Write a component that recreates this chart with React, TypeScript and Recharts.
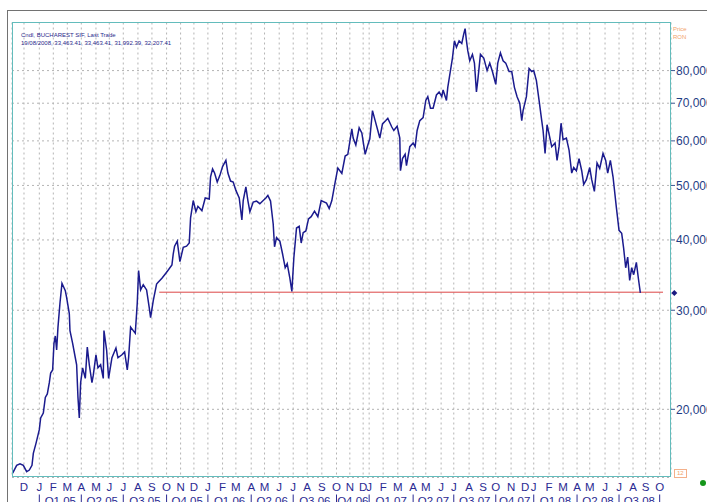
import React from 'react';
import { LineChart, Line, XAxis, YAxis, CartesianGrid, ReferenceLine, ReferenceDot } from 'recharts';

// x = trading session index since late Nov 2004, y = close (RON)
const SESSION = [
  1, 7, 12, 17, 22, 26, 30, 32, 36, 41, 43, 47, 50, 53, 56, 58, 61, 63, 65, 67, 69, 72, 75, 80, 82, 86, 87, 91, 95, 97,
  99, 101, 103, 106, 110, 113, 116, 120, 122, 126, 129, 133, 137, 138, 142, 145, 150, 156, 159, 165, 169, 173, 175, 178,
  182, 185, 188, 190, 193, 197, 202, 206, 208, 212, 217, 219, 225, 230, 234, 240, 242, 244, 248, 252, 257, 262, 266,
  268, 272, 276, 279, 285, 290, 296, 298, 301, 304, 308, 312, 316, 321, 324, 328, 332, 336, 341, 345, 347, 351, 354,
  357, 362, 367, 372, 377, 381, 384, 388, 392, 394, 397, 402, 406, 410, 413, 417, 420, 423, 427, 431, 434, 437, 441,
  445, 449, 454, 459, 464, 472, 476, 480, 485, 489, 495, 500, 504, 510, 512, 516, 521, 525, 530, 534, 537, 541, 545,
  549, 552, 556, 561, 564, 570, 573, 578, 582, 583, 586, 590, 592, 597, 602, 605, 608, 612, 617, 621, 624, 628, 632,
  637, 641, 645, 647, 652, 654, 658, 661, 664, 667, 671, 675, 678, 680, 682, 684, 687, 691, 694, 697, 699, 703, 708,
  713, 717, 721, 726, 729, 733, 737, 741, 746, 750, 754, 758, 762, 765, 767, 772, 776, 780, 783, 787, 791, 795, 797,
  800, 803, 806, 810, 815, 818, 821, 824, 827, 832, 836, 840, 843, 847, 851, 855, 858, 862, 867, 870, 874, 878, 882,
  887, 891, 894, 898, 902, 907, 911, 915, 918, 921, 924, 927, 930, 933, 937, 940, 943,
];

const CLOSE = [
  15400, 15900, 16000, 15900, 15500, 15600, 15900, 16700, 17400, 18400, 19300, 19700, 21000, 21300, 22300, 23200,
  23500, 26200, 27000, 25500, 28000, 30900, 33500, 32500, 31600, 29600, 27600, 26200, 24700, 24000,
  21000, 19300, 22300, 23700, 22700, 25800, 24000, 22300, 23000, 25000, 23700, 24000, 22700, 27600, 25500, 22700,
  24700, 25700, 24700, 25000, 25300, 23500, 24700, 28000,
  27600, 27300, 30900, 35300, 32600, 33300, 32600, 30300, 29100, 31200, 33400, 33600, 34200, 34800, 35300, 36100,
  37800, 39000, 39800, 36600, 38800, 39000, 39500,
  43800, 47000, 44900, 45900, 45100, 47500, 47300, 51800, 53500, 52600, 50700, 52100, 54000, 55400, 52600, 50900,
  50700, 49000, 47500, 43400, 47000, 49700, 47000,
  44900, 46700, 46900, 46400, 47000, 47500, 48000, 46900, 42700, 38900, 40400, 39800, 37800, 35700, 36300, 34200,
  32400, 37200, 42000, 42300, 39500, 41200, 41500,
  43600, 44000, 45000, 44000, 47000, 46500, 45500, 47000, 50700, 53700, 52500, 56400, 56800, 63000, 60700, 59000,
  63300, 62000, 56800, 59000, 60500, 67900, 65200,
  62600, 60700, 64300, 65200, 65800, 63500, 62600, 63700, 60700, 53100, 55800, 56800, 54200, 58600, 59500, 58600,
  62600, 65200, 66000, 70800, 71900, 68600, 68600,
  72400, 73300, 71900, 73900, 70800, 74700, 80000, 84200, 90400, 88000, 90400, 89400, 93000, 95000, 90400, 86800,
  83300, 85500, 82500, 73300, 76800, 85500, 84200,
  80000, 82500, 79700, 75600, 82500, 86000, 83300, 82500, 79700, 79700, 74700, 71900, 70000, 65200, 67900, 71900,
  80700, 79700, 80000, 76800, 70800, 65200, 62600,
  57000, 64100, 61700, 58600, 59500, 55400, 58600, 64500, 60300, 60700, 57800, 52600, 53800, 53100, 55800, 53100,
  50200, 51200, 53800, 51200, 48800, 54800, 53600,
  57000, 55400, 52600, 55400, 51800, 45700, 41600, 41100, 38600, 35700, 37300, 33900, 35700, 34700, 36500, 34200,
  32207.41,
];

const MONTH_LABELS = [
  'D', 'J', 'F', 'M', 'A', 'M', 'J', 'J', 'A', 'S', 'O', 'N',
  'D', 'J', 'F', 'M', 'A', 'M', 'J', 'J', 'A', 'S', 'O', 'N',
  'D', 'J', 'F', 'M', 'A', 'M', 'J', 'J', 'A', 'S', 'O', 'N',
  'D', 'J', 'F', 'M', 'A', 'M', 'J', 'J', 'A', 'S', 'O',
];
const MONTH_SESSION = [
  18, 41, 62, 83, 104, 126, 146, 167, 189, 210, 232, 253,
  273, 294, 316, 336, 359, 379, 401, 422, 443, 465, 487, 507,
  527, 536, 557, 579, 602, 621, 644, 663, 686, 707, 726, 749,
  770, 783, 806, 827, 848, 867, 890, 911, 932, 951, 972,
];

const QUARTER_LABELS = [
  'Q1 05', 'Q2 05', 'Q3 05', 'Q4 05', 'Q1 06', 'Q2 06', 'Q3 06', 'Q4 06',
  'Q1 07', 'Q2 07', 'Q3 07', 'Q4 07', 'Q1 08', 'Q2 08', 'Q3 08',
];
const QUARTER_START = [41, 104, 167, 232, 294, 359, 422, 487, 536, 602, 663, 726, 783, 848, 911, 972];

const PRICE_TICKS = [20000, 30000, 40000, 50000, 60000, 70000, 80000];
const X_DOMAIN = [0, 989];
const Y_DOMAIN = [15130, 97400];

const SUPPORT_LEVEL = 32300;
const SUPPORT_FROM = 221;
const SUPPORT_TO = 977;
const LAST_PRICE = 32207.41;

const data = SESSION.map((s, i) => ({ s, close: CLOSE[i] }));

const QUARTER_MID = QUARTER_LABELS.map((_, i) => (QUARTER_START[i] + QUARTER_START[i + 1]) / 2);
const QUARTER_TICKS = [...QUARTER_START, ...QUARTER_MID].sort((a, b) => a - b);

const FONT = '"Liberation Sans", Arial, sans-serif';
const NAVY = '#2a2a92';

const MonthTick = (props: any) => {
  const { x, y, payload } = props;
  const i = MONTH_SESSION.indexOf(payload.value);
  return (
    <text x={x} y={y + 11.5} textAnchor="middle" fontSize={11.5} fill={NAVY} fontFamily={FONT}>
      {MONTH_LABELS[i]}
    </text>
  );
};

const QuarterTick = (props: any) => {
  const { x, y, payload } = props;
  const qi = QUARTER_MID.indexOf(payload.value);
  if (qi < 0) {
    return <line x1={x} x2={x} y1={y + 3} y2={y + 14} stroke={NAVY} strokeWidth={1} />;
  }
  return (
    <text x={x} y={y + 13} textAnchor="middle" fontSize={11.5} fill={NAVY} fontFamily={FONT}>
      {QUARTER_LABELS[qi]}
    </text>
  );
};

const Diamond = (props: any) => {
  const { cx, cy } = props;
  return <polygon points={`${cx},${cy - 3} ${cx + 3},${cy} ${cx},${cy + 3} ${cx - 3},${cy}`} fill="#1a1a80" />;
};

export default function App() {
  return (
    <div style={{ position: 'absolute', left: 0, top: 0, width: 707, height: 502, background: '#fff', fontFamily: FONT, overflow: 'hidden' }}>
      {/* outer frame */}
      <div style={{ position: 'absolute', left: 6.5, top: 9.5, width: 720, height: 520, borderTop: '1.5px solid #727272', borderLeft: '1.5px solid #727272' }} />

      <LineChart width={707} height={502} data={data} margin={{ top: 22.5, right: 0, bottom: 0, left: 12 }}>
        <CartesianGrid stroke="#b4b4b4" strokeDasharray="2 3" />
        <XAxis
          dataKey="s"
          type="number"
          domain={X_DOMAIN}
          allowDataOverflow
          ticks={MONTH_SESSION}
          interval={0}
          height={12}
          axisLine={false}
          tickLine={false}
          tickSize={0}
          tick={<MonthTick />}
        />
        <XAxis
          xAxisId="q"
          dataKey="s"
          type="number"
          domain={X_DOMAIN}
          allowDataOverflow
          ticks={QUARTER_TICKS}
          interval={0}
          height={12.5}
          axisLine={false}
          tickLine={false}
          tickSize={0}
          tick={<QuarterTick />}
        />
        <YAxis
          orientation="right"
          scale="log"
          domain={Y_DOMAIN}
          allowDataOverflow
          ticks={PRICE_TICKS}
          interval={0}
          width={36}
          axisLine={false}
          tickSize={4}
          tickMargin={1}
          tickLine={{ stroke: '#3a5590' }}
          tick={{ fontSize: 12, fill: '#1f3d85', fontFamily: FONT }}
          tickFormatter={(v: number) => v.toLocaleString('en-US')}
        />
        <ReferenceLine
          segment={[{ x: SUPPORT_FROM, y: SUPPORT_LEVEL }, { x: SUPPORT_TO, y: SUPPORT_LEVEL }]}
          stroke="#dc4646"
          strokeWidth={1}
        />
        <Line
          type="linear"
          dataKey="close"
          stroke="#1b1b8e"
          strokeWidth={1.5}
          dot={false}
          isAnimationActive={false}
        />
        <ReferenceDot x={994} y={LAST_PRICE} ifOverflow="visible" shape={<Diamond />} />
      </LineChart>

      {/* plot border */}
      <div style={{ position: 'absolute', left: 11.5, top: 22, width: 659, height: 455, border: '1px solid #63bcbc', boxSizing: 'border-box', pointerEvents: 'none' }} />

      {/* header */}
      <div style={{ position: 'absolute', left: 21, top: 31, fontSize: 6, lineHeight: '8.3px', color: '#2a2a8c', whiteSpace: 'nowrap' }}>
        <div>Cndl, BUCHAREST SIF, Last Trade</div>
        <div>19/08/2008, 33,463.41, 33,463.41, 31,992.39, 32,207.41</div>
      </div>
      <div style={{ position: 'absolute', left: 673, top: 24.5, fontSize: 6, lineHeight: '8.5px', color: '#f2a26a' }}>
        <div>Price</div>
        <div>RON</div>
      </div>

      {/* scale box and status dot */}
      <div style={{ position: 'absolute', left: 674, top: 469, width: 12.5, height: 8.5, border: '1px solid #f4b08a', boxSizing: 'border-box', fontSize: 6, lineHeight: '6.5px', color: '#f2a26a', textAlign: 'center' }}>12</div>
      <div style={{ position: 'absolute', left: 699.5, top: 480, width: 6, height: 6, borderRadius: 3, background: '#15961a' }} />
    </div>
  );
}
